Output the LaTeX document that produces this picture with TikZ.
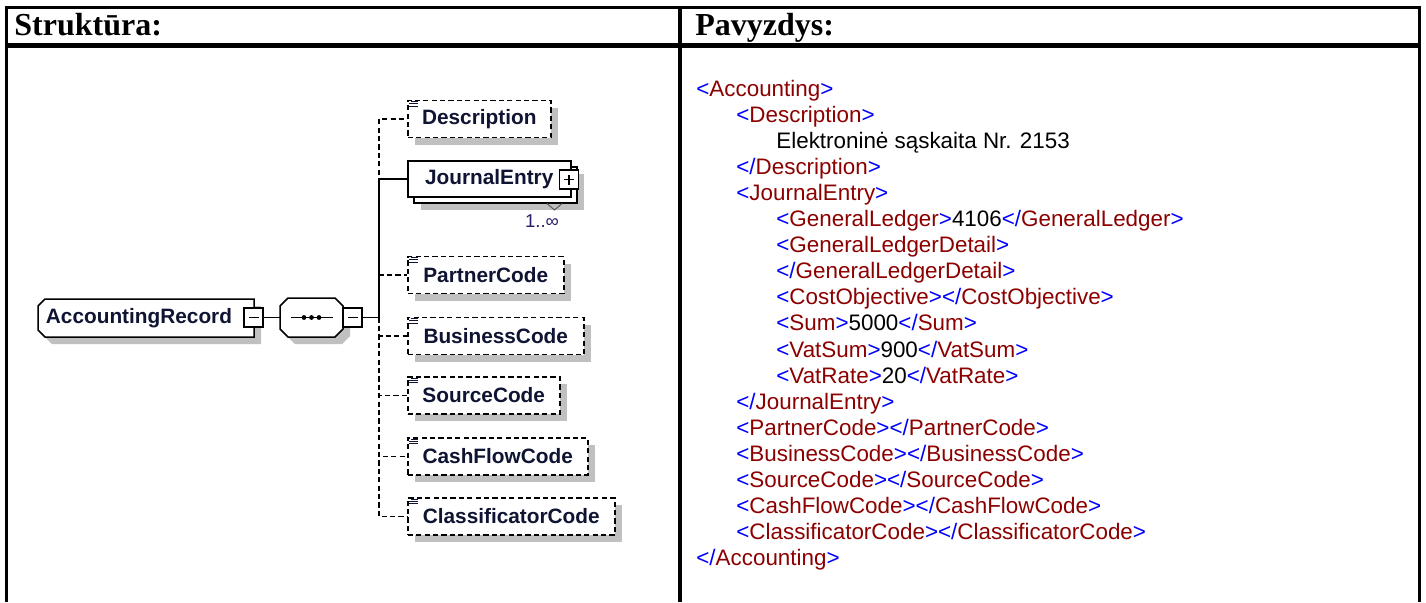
\documentclass[tikz,border=0pt]{standalone}
\usepackage{fontspec}
\setmainfont{Liberation Sans}
\newfontfamily\hdrfont{Liberation Serif}
\usetikzlibrary{shadows}
\definecolor{xb}{RGB}{0,0,255}
\definecolor{xr}{RGB}{140,0,0}
\definecolor{elt}{RGB}{15,20,50}
\definecolor{mult}{RGB}{40,30,100}
\definecolor{shgray}{RGB}{192,192,192}
\newcommand\tagO[1]{\textcolor{xb}{<}\textcolor{xr}{#1}\textcolor{xb}{>}}
\newcommand\tagC[1]{\textcolor{xb}{</}\textcolor{xr}{#1}\textcolor{xb}{>}}
\tikzset{
  xml/.style={anchor=base west, inner sep=0pt, font=\fontsize{11.2}{13}\selectfont},
  hdr/.style={anchor=base west, inner sep=0pt, font=\hdrfont\bfseries\fontsize{16}{18}\selectfont},
  shad/.style={drop shadow={shadow xshift=3.5pt, shadow yshift=-3.5pt, fill=shgray, opacity=1}},
  eltext/.style={font=\bfseries\fontsize{10.4}{12}\selectfont, text=elt},
  elbox/.style={draw=black, line width=0.75pt, fill=white, minimum height=18.5pt, inner sep=0pt,
    anchor=west, eltext},
  optbox/.style={elbox, shad, dash pattern=on 2.6pt off 1.6pt},
  outline/.style={draw=black, line width=0.75pt, fill=white},
  conn/.style={line width=0.8pt},
  optconn/.style={conn, dash pattern=on 2.6pt off 1.6pt},
  btn/.style={draw=black, line width=0.7pt, fill=white, minimum size=9.5pt, inner sep=0pt},
  icon/.style={line width=0.5pt, draw=elt},
}
\begin{document}
\begin{tikzpicture}[x=0.5pt,y=-0.5pt]
\useasboundingbox (0,0) rectangle (1426,602);
\fill[white] (0,0) rectangle (1426,602);
% table
\draw[line width=1.5pt] (5,7.5) -- (1421,7.5);
\draw[line width=2.5pt] (5,45.5) -- (1421,45.5);
\draw[line width=1.5pt] (6.5,6) -- (6.5,602);
\draw[line width=2pt] (679.5,6) -- (679.5,602);
\draw[line width=1.65pt] (1419.5,6) -- (1419.5,602);
\node[hdr] (h1) at (14,35) {Struktūra:};
\node[hdr] (h2) at (695,35) {Pavyzdys:};

% XML example
\foreach \k/\ind/\txt in {
  0/0/{\tagO{Accounting}},
  1/1/{\tagO{Description}},
  2/2/{Elektroninė sąskaita Nr. 2153},
  3/1/{\tagC{Description}},
  4/1/{\tagO{JournalEntry}},
  5/2/{\tagO{GeneralLedger}4106\tagC{GeneralLedger}},
  6/2/{\tagO{GeneralLedgerDetail}},
  7/2/{\tagC{GeneralLedgerDetail}},
  8/2/{\tagO{CostObjective}\tagC{CostObjective}},
  9/2/{\tagO{Sum}5000\tagC{Sum}},
  10/2/{\tagO{VatSum}900\tagC{VatSum}},
  11/2/{\tagO{VatRate}20\tagC{VatRate}},
  12/1/{\tagC{JournalEntry}},
  13/1/{\tagO{PartnerCode}\tagC{PartnerCode}},
  14/1/{\tagO{BusinessCode}\tagC{BusinessCode}},
  15/1/{\tagO{SourceCode}\tagC{SourceCode}},
  16/1/{\tagO{CashFlowCode}\tagC{CashFlowCode}},
  17/1/{\tagO{ClassificatorCode}\tagC{ClassificatorCode}},
  18/0/{\tagC{Accounting}}}
  {\node[xml] (x\k) at ({696+40*\ind},{96.5+26.05*\k}) {\txt};}

% ---- schema diagram ----
% AccountingRecord (left corners chamfered)
\fill[shgray, shift={(7,7)}] (45,299) -- (254,299) -- (254,337) -- (45,337) -- (38,330) -- (38,306) -- cycle;
\path[outline] (45,299) -- (254,299) -- (254,337) -- (45,337) -- (38,330) -- (38,306) -- cycle;
\node[eltext, inner sep=0pt, minimum width=108pt, minimum height=19pt] (ar) at (146,318) {AccountingRecord\hspace*{7pt}};
\node[btn] (arm) at (253.5,317.5) {};
\draw[line width=0.7pt] ([xshift=-2.5pt]arm.center) -- ([xshift=2.5pt]arm.center);

% sequence compositor (octagon)
\fill[shgray, shift={(7,7)}] (288,298) -- (335,298) -- (343,306) -- (343,329) -- (335,337) -- (288,337) -- (280,329) -- (280,306) -- cycle;
\path[outline] (288,298) -- (335,298) -- (343,306) -- (343,329) -- (335,337) -- (288,337) -- (280,329) -- (280,306) -- cycle;
\node[inner sep=0pt, minimum width=31.5pt, minimum height=19.5pt] (seq) at (311.5,317.5) {};
\draw[line width=0.7pt] ([xshift=-10.5pt]seq.center) -- ([xshift=10.5pt]seq.center);
\foreach \d in {-3.75pt,0pt,3.75pt}
  \fill ([xshift=\d]seq.center) circle (1.2pt);
\node[btn] (seqm) at (352.5,317.5) {};
\draw[line width=0.7pt] ([xshift=-2.5pt]seqm.center) -- ([xshift=2.5pt]seqm.center);

\coordinate (J) at (379,317.5);
\draw[conn] (arm.east) -- (seq.west);
\draw[conn] (seqm.east) -- (J);

% optional children
\node[optbox, minimum width=71.5pt] (desc) at (407,119) {Description};
\node[optbox, minimum width=78pt] (partner) at (407,275) {PartnerCode};
\node[optbox, minimum width=88pt] (business) at (407,336) {BusinessCode};
\node[optbox, minimum width=76pt] (source) at (407,395.5) {SourceCode};
\node[optbox, minimum width=90pt] (cashflow) at (407,456.5) {CashFlowCode};
\node[optbox, minimum width=103.5pt] (classif) at (407,516.5) {ClassificatorCode};

% JournalEntry (required, repeated)
\node[elbox, shad, minimum width=81.5pt, minimum height=18pt] (jeb) at (413,185) {};
\node[elbox, minimum width=81.5pt, minimum height=18pt] (je) at (407,179) {JournalEntry};
\node[btn] (jep) at (569,179.5) {};
\draw[line width=0.7pt] ([xshift=-2.5pt]jep.center) -- ([xshift=2.5pt]jep.center)
  ([yshift=-2.5pt]jep.center) -- ([yshift=2.5pt]jep.center);
\draw[line width=0.5pt, draw=black!65] (547,203.5) -- (554.5,210) -- (562,203.5);
\node[inner sep=0pt, text=mult, font=\fontsize{9.3}{11}\selectfont] (mul) at (542,221) {1..∞};

% connectors
\foreach \n in {desc,partner,business,source,cashflow,classif}
  \draw[optconn] (J) |- (\n.west);
\draw[conn] (J) |- (je.west);

% content icons
\foreach \n in {desc,partner,business,source,cashflow,classif}{
  \draw[icon] ([shift={(2pt,-0.9pt)}]\n.north west) -- ++(3.5pt,0);
  \draw[icon] ([shift={(1.2pt,-2.1pt)}]\n.north west) -- ++(4.3pt,0);
  \draw[icon] ([shift={(1.2pt,-3.3pt)}]\n.north west) -- ++(4.3pt,0);
}
\end{tikzpicture}
\end{document}
